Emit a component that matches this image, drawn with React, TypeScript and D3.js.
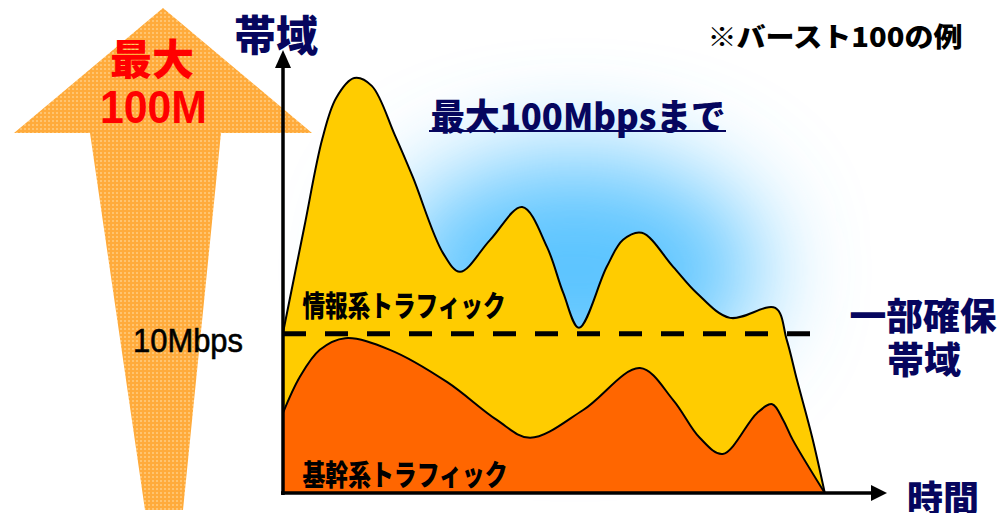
import React, { useRef, useEffect } from "react";
import * as d3 from "d3";

// 時間軸 (0-100) と帯域 (0-100, 最大=100) の読み取り値
const infoTime = [0, 3.5, 6.5, 8.8, 11.8, 14.7, 18.5, 21.5, 26.5, 29.3, 34.3, 39.6, 43.7, 46.4, 49.0, 53.6, 56.3, 59.4, 64.6, 68.5, 74.0, 81.5, 83.4, 85.1, 87.6, 89.7];
const infoBw = [38.6, 63.9, 85.3, 95.2, 100, 98.1, 86.3, 76.1, 57.8, 53.3, 61.0, 68.9, 59.3, 48.2, 39.8, 54.5, 61.0, 62.7, 54.5, 48.2, 42.2, 44.6, 36.9, 27.2, 13.5, 0];

const coreTime = [0, 2.8, 6.1, 10.3, 17.7, 27.2, 35.4, 40.9, 49.7, 59.1, 64.6, 69.0, 72.8, 78.5, 81.0, 82.8, 84.4, 89.7];
const coreBw = [19.3, 28.0, 34.5, 37.3, 34.5, 26.7, 17.6, 13.3, 20.0, 30.1, 22.4, 13.3, 9.4, 19.3, 21.4, 17.6, 12.8, 0];

const guaranteeBw = 38.4;
const guaranteeEnd = 87.3;

const labels = {
    yAxis: "帯域",
    xAxis: "時間",
    note: "※バースト100の例",
    burst: "最大100Mbpsまで",
    info: "情報系トラフィック",
    core: "基幹系トラフィック",
    guarantee: ["一部確保", "帯域"],
    tick: "10Mbps",
    arrow: ["最大", "100M"],
};

const CJK = "'Noto Sans CJK JP', 'Noto Sans', sans-serif";
const NAVY = "#06065e";

interface Pt {
    t: number;
    v: number;
}

const App: React.FC = () => {
    const svgRef = useRef<SVGSVGElement | null>(null);

    useEffect(() => {
        const width = 1007;
        const height = 513;
        const x = d3.scaleLinear().domain([0, 100]).range([283, 887]);
        const y = d3.scaleLinear().domain([0, 100]).range([493, 78]);

        const info: Pt[] = infoTime.map((t, i) => ({ t, v: infoBw[i] }));
        const core: Pt[] = coreTime.map((t, i) => ({ t, v: coreBw[i] }));

        const svg = d3.select(svgRef.current);
        svg.selectAll("*").remove();
        svg.attr("width", width).attr("height", height);

        const defs = svg.append("defs");
        const blur = defs
            .append("filter")
            .attr("id", "glow")
            .attr("x", "-100%")
            .attr("y", "-100%")
            .attr("width", "300%")
            .attr("height", "300%");
        blur.append("feGaussianBlur").attr("stdDeviation", 50);

        const pat = defs
            .append("pattern")
            .attr("id", "dots")
            .attr("width", 4)
            .attr("height", 4)
            .attr("patternUnits", "userSpaceOnUse");
        pat.append("rect").attr("width", 4).attr("height", 4).attr("fill", "#ffab3c");
        pat.append("rect").attr("width", 2).attr("height", 2).attr("fill", "#ffc470");

        svg.append("rect").attr("width", width).attr("height", height).attr("fill", "#fff");

        // 青いにじみ
        svg.append("ellipse")
            .attr("cx", 575)
            .attr("cy", 270)
            .attr("rx", 185)
            .attr("ry", 115)
            .attr("fill", "#5cc4ff")
            .attr("filter", "url(#glow)");

        // 左の大きな矢印
        svg.append("polygon")
            .attr("points", "163,8 312,133 221,133 183,510 145,510 90,133 14,133")
            .attr("fill", "url(#dots)");

        svg.append("text")
            .attr("x", 152)
            .attr("y", 56)
            .attr("text-anchor", "middle")
            .attr("dominant-baseline", "central")
            .attr("font-family", CJK)
            .attr("font-weight", 900)
            .attr("font-size", 42)
            .attr("fill", "#ff0000")
            .text(labels.arrow[0]);
        svg.append("text")
            .attr("x", 100)
            .attr("y", 123)
            .attr("textLength", 107)
            .attr("lengthAdjust", "spacingAndGlyphs")
            .attr("font-family", "'Liberation Sans', Arial, sans-serif")
            .attr("font-weight", 700)
            .attr("font-size", 47)
            .attr("fill", "#ff0000")
            .text(labels.arrow[1]);

        svg.append("text")
            .attr("x", 133)
            .attr("y", 352)
            .attr("textLength", 110)
            .attr("lengthAdjust", "spacingAndGlyphs")
            .attr("font-family", "'Liberation Sans', Arial, sans-serif")
            .attr("font-size", 33)
            .attr("fill", "#000")
            .attr("stroke", "#000")
            .attr("stroke-width", 0.6)
            .text(labels.tick);

        // 情報系 (積み上げ全体) と基幹系
        const curve = d3.curveCatmullRom.alpha(0.5);
        const area = d3
            .area<Pt>()
            .x((d) => x(d.t))
            .y0(y(0))
            .y1((d) => y(d.v))
            .curve(curve);
        const line = d3
            .line<Pt>()
            .x((d) => x(d.t))
            .y((d) => y(d.v))
            .curve(curve);

        svg.append("path").attr("d", area(info)).attr("fill", "#ffcc00");
        svg.append("path")
            .attr("d", line(info))
            .attr("fill", "none")
            .attr("stroke", "#000")
            .attr("stroke-width", 2);

        svg.append("path").attr("d", area(core)).attr("fill", "#ff6600");
        svg.append("path")
            .attr("d", line(core))
            .attr("fill", "none")
            .attr("stroke", "#000")
            .attr("stroke-width", 2);

        // 一部確保帯域の破線
        svg.append("line")
            .attr("x1", x(0))
            .attr("x2", x(guaranteeEnd))
            .attr("y1", y(guaranteeBw))
            .attr("y2", y(guaranteeBw))
            .attr("stroke", "#000")
            .attr("stroke-width", 5)
            .attr("stroke-dasharray", "23 19");

        const cjkText = (
            txt: string,
            cx: number,
            cy: number,
            size: number,
            fill: string,
            len?: number
        ) => {
            const t = svg
                .append("text")
                .attr("x", cx)
                .attr("y", cy)
                .attr("text-anchor", "middle")
                .attr("dominant-baseline", "central")
                .attr("font-family", CJK)
                .attr("font-weight", 900)
                .attr("font-size", size)
                .attr("fill", fill)
                .text(txt);
            if (len) t.attr("textLength", len).attr("lengthAdjust", "spacingAndGlyphs");
            return t;
        };

        cjkText(labels.info, 404, 304, 29, "#000", 203);
        cjkText(labels.core, 405, 473, 29, "#000", 205);
        cjkText(labels.burst, 578, 114, 36, NAVY, 295);
        svg.append("line")
            .attr("x1", 429)
            .attr("x2", 726)
            .attr("y1", 131)
            .attr("y2", 131)
            .attr("stroke", NAVY)
            .attr("stroke-width", 2);
        cjkText(labels.note, 835, 35, 27, "#000", 255);
        cjkText(labels.yAxis, 276, 32, 42, NAVY);
        cjkText(labels.xAxis, 943, 496, 36, NAVY);
        cjkText(labels.guarantee[0], 923, 314, 37, NAVY, 147);
        cjkText(labels.guarantee[1], 924, 358, 37, NAVY);

        // 軸
        const x0 = x(0);
        const yb = y(0);
        svg.append("line")
            .attr("x1", x0)
            .attr("x2", x0)
            .attr("y1", yb + 2)
            .attr("y2", 66)
            .attr("stroke", "#000")
            .attr("stroke-width", 3.5);
        svg.append("polygon")
            .attr("points", `${x0},50 ${x0 + 8},68 ${x0 - 8},68`)
            .attr("fill", "#000");
        svg.append("line")
            .attr("x1", x0 - 2)
            .attr("x2", x(100) - 14)
            .attr("y1", yb)
            .attr("y2", yb)
            .attr("stroke", "#000")
            .attr("stroke-width", 3.5);
        svg.append("polygon")
            .attr("points", `${x(100)},${yb} ${x(100) - 16},${yb - 8} ${x(100) - 16},${yb + 8}`)
            .attr("fill", "#000");
    }, []);

    return (
        <svg
            ref={svgRef}
            width={1007}
            height={513}
            style={{ position: "absolute", left: 0, top: 0, display: "block" }}
        />
    );
};

export default App;
